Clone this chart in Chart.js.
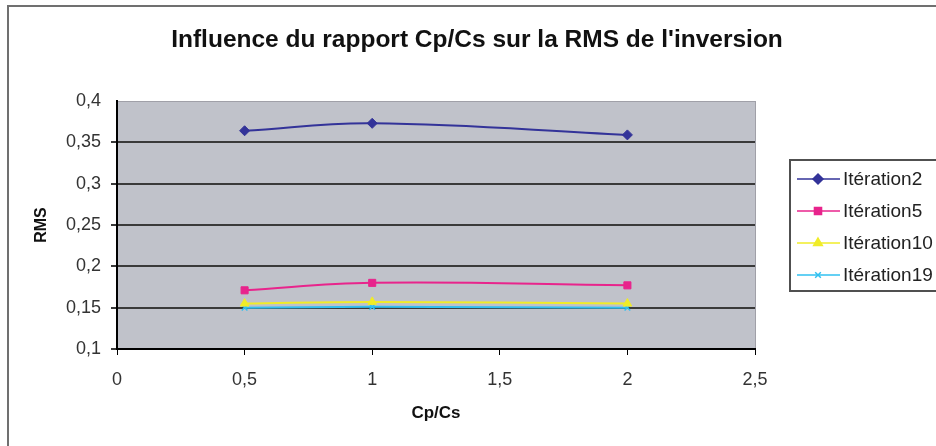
<!DOCTYPE html>
<html lang="fr">
<head>
    <meta charset="UTF-8" />
    <title>Influence du rapport Cp/Cs</title>
    <style>
        html, body { margin: 0; padding: 0; background: #fff; }
        #wrap { width: 936px; height: 446px; }
    </style>
</head>
<body>
<div id="wrap"><canvas id="rmsChart" width="936" height="446"></canvas></div>

<script src="https://cdn.jsdelivr.net/npm/chart.js"></script>
<script>
    // valeurs
    const cpcs = [0.5, 1, 2];
    const iter2 = [0.364, 0.373, 0.359];
    const iter5 = [0.171, 0.180, 0.177];
    const iter10 = [0.155, 0.157, 0.155];
    const iter19 = [0.150, 0.151, 0.150];
    const seriesNames = ['Itération2', 'Itération5', 'Itération10', 'Itération19'];
    const yTicks = [0.1, 0.15, 0.2, 0.25, 0.3, 0.35, 0.4];
    const xTicks = [0, 0.5, 1, 1.5, 2, 2.5];

    const FONT = '"Liberation Sans", Arial, sans-serif';
    const fmt = v => String(Math.round(v * 100) / 100).replace('.', ',');
    const pts = ys => cpcs.map((x, i) => ({ x: x, y: ys[i] }));

    const styles = [
        { color: '#333399', point: 'rectRot', radius: 5 },
        { color: '#e8248c', point: 'rect', radius: 5 },
        { color: '#f0ec28', point: 'triangle', radius: 5 },
        { color: '#30c0f0', point: 'crossRot', radius: 4 }
    ];

    const datasets = [iter2, iter5, iter10, iter19].map((ys, i) => ({
        label: seriesNames[i],
        data: pts(ys),
        borderColor: styles[i].color,
        backgroundColor: styles[i].color,
        borderWidth: 2,
        pointStyle: styles[i].point,
        pointRadius: styles[i].radius,
        pointBorderWidth: i === 3 ? 1.5 : 1,
        tension: 0.4,
        fill: false
    }));

    // fond gris de la zone de tracé + cadres + légende
    const decor = {
        id: 'decor',
        beforeDraw(chart) {
            const { ctx, chartArea: a } = chart;
            ctx.save();
            ctx.fillStyle = '#fff';
            ctx.fillRect(0, 0, chart.width, chart.height);
            ctx.fillStyle = '#c0c2ca';
            ctx.fillRect(a.left, a.top, a.right - a.left, a.bottom - a.top);
            ctx.strokeStyle = '#a0a0a8';
            ctx.lineWidth = 1;
            ctx.strokeRect(a.left + 0.5, a.top + 0.5, a.right - a.left, a.bottom - a.top);
            ctx.strokeStyle = '#707070';
            ctx.lineWidth = 2;
            ctx.strokeRect(8, 6, chart.width + 20, chart.height + 20);
            ctx.restore();
        },
        afterDraw(chart) {
            const { ctx } = chart;
            const bx = 790, by = 160, bw = 160, bh = 131;
            ctx.save();
            ctx.fillStyle = '#fff';
            ctx.fillRect(bx, by, bw, bh);
            ctx.strokeStyle = '#505050';
            ctx.lineWidth = 2;
            ctx.strokeRect(bx, by, bw, bh);
            ctx.font = '19px ' + FONT;
            ctx.textBaseline = 'middle';
            chart.data.datasets.forEach((ds, i) => {
                const y = 179 + i * 32;
                ctx.strokeStyle = ds.borderColor;
                ctx.fillStyle = ds.borderColor;
                ctx.lineWidth = 1.5;
                ctx.beginPath();
                ctx.moveTo(797, y);
                ctx.lineTo(840, y);
                ctx.stroke();
                Chart.helpers.drawPoint(ctx, {
                    pointStyle: ds.pointStyle,
                    radius: ds.pointRadius,
                    borderWidth: ds.pointBorderWidth,
                    rotation: 0
                }, 818, y);
                ctx.fillStyle = '#222';
                ctx.fillText(ds.label, 843, y + 1);
            });
            ctx.restore();
        }
    };

    new Chart(document.getElementById('rmsChart'), {
        type: 'line',
        data: { datasets: datasets },
        options: {
            responsive: false,
            animation: false,
            layout: { padding: { left: 18, right: 0, top: 0, bottom: 0 } },
            plugins: {
                legend: { display: false },
                tooltip: { enabled: false },
                title: {
                    display: true,
                    text: "Influence du rapport Cp/Cs sur la RMS de l'inversion",
                    color: '#111',
                    font: { family: FONT, size: 24.5, weight: 'bold' },
                    padding: { top: 26, bottom: 45.6 }
                }
            },
            scales: {
                x: {
                    type: 'linear',
                    min: 0,
                    max: 2.5,
                    afterFit: s => { s.height = 97; },
                    afterBuildTicks: s => { s.ticks = xTicks.map(v => ({ value: v })); },
                    grid: { drawOnChartArea: false, drawTicks: true, tickLength: 6, color: '#000' },
                    border: { color: '#000', width: 2 },
                    ticks: {
                        callback: v => fmt(v),
                        color: '#333',
                        padding: 14,
                        font: { family: FONT, size: 18 }
                    },
                    title: {
                        display: true,
                        text: 'Cp/Cs',
                        color: '#111',
                        font: { family: FONT, size: 17, weight: 'bold' },
                        padding: { top: 0, bottom: 22 }
                    }
                },
                y: {
                    min: 0.1,
                    max: 0.4,
                    afterFit: s => { s.width = 99; },
                    afterBuildTicks: s => { s.ticks = yTicks.map(v => ({ value: v })); },
                    grid: {
                        drawTicks: true,
                        tickLength: 6,
                        lineWidth: 2,
                        color: c => (c.tick && c.tick.value === 0.4 ? 'rgba(0,0,0,0)' : '#3a3a3a')
                    },
                    border: { color: '#000', width: 2 },
                    ticks: {
                        callback: v => fmt(v),
                        color: '#333',
                        padding: 10,
                        font: { family: FONT, size: 18 }
                    },
                    title: {
                        display: true,
                        text: 'RMS',
                        color: '#111',
                        font: { family: FONT, size: 16, weight: 'bold' },
                        padding: { top: 14, bottom: 0 }
                    }
                },
                // axe vide à droite, réserve la place de la légende
                side: {
                    position: 'right',
                    min: 0,
                    max: 1,
                    afterFit: s => { s.width = 181; },
                    grid: { display: false },
                    border: { display: false },
                    ticks: { display: false }
                }
            }
        },
        plugins: [decor]
    });
</script>
</body>
</html>
